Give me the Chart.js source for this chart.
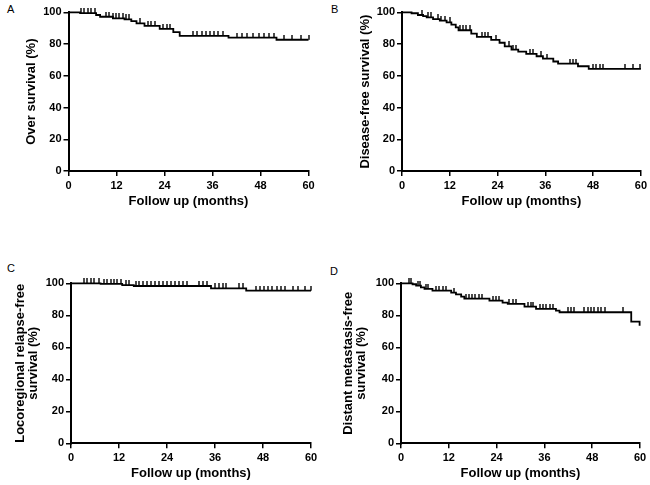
<!DOCTYPE html>
<html>
<head>
<meta charset="utf-8">
<script src="https://cdn.jsdelivr.net/npm/chart.js@4"></script>
<style>
 body { margin: 0; background: #fff; width: 650px; height: 485px; position: relative; overflow: hidden;
        font-family: "Liberation Sans", Arial, sans-serif; }
 canvas { position: absolute; }
 .letter { position: absolute; font-size: 11px; color: #000; }
</style>
</head>
<body>
<div class="letter" style="left:7px;top:3px">A</div>
<div class="letter" style="left:331px;top:3px">B</div>
<div class="letter" style="left:7px;top:262px">C</div>
<div class="letter" style="left:330px;top:265px">D</div>
<canvas id="cA" width="325" height="213" style="left:0;top:0"></canvas>
<canvas id="cB" width="320" height="213" style="left:330px;top:0"></canvas>
<canvas id="cC" width="325" height="215" style="left:0;top:270px"></canvas>
<canvas id="cD" width="320" height="215" style="left:330px;top:270px"></canvas>
<script>
const monthTicks = [0, 12, 24, 36, 48, 60];
const pctTicks = [0, 20, 40, 60, 80, 100];

// A - overall survival
const osTimes = [0, 2.9, 6.9, 7.9, 11.1, 14, 15.7, 17, 19, 22.8, 26.2, 27.8, 40, 52, 60];
const osSurv = [100, 99.5, 98.3, 97.2, 96.2, 95.5, 94.5, 93, 91.5, 89.5, 87.5, 85.2, 84, 82.7, 82.7];
const osCensor = [3.1, 3.9, 4.8, 5.6, 6.5, 9.4, 10.2, 11.1, 11.9, 12.7, 13.6, 14.4, 15.2, 17.8, 19.9, 20.7, 21.5,
   23.6, 24.5, 25.3, 31.2, 32.2, 33.3, 34.3, 35.4, 36.4, 37.4, 38.5, 42, 43.3, 44.6, 46.2, 47.5, 48.8, 50, 51.3,
   53.8, 55.9, 58, 60];

// B - disease-free survival
const dfsTimes = [0, 2.4, 4, 5.3, 6.2, 7.8, 9.5, 11.2, 12.4, 13.5, 14.2, 17.4, 18.8, 22.4, 24.5, 25.8, 27.5,
   29.2, 31.2, 33.8, 35.4, 38, 39.2, 44.2, 46.9, 60];
const dfsSurv = [100, 99.4, 98.3, 97.6, 96.8, 95.7, 94.7, 93.6, 92.2, 90.5, 88.7, 86.5, 84.5, 82.6, 80.8, 78.5,
   76.5, 75.2, 73.8, 72.3, 70.8, 69, 67.6, 66, 64.3, 64.3];
const dfsCensor = [4.9, 6.5, 7.4, 9.1, 9.9, 10.7, 12, 14.5, 15.3, 16.2, 17, 20, 20.8, 21.6, 23.7, 27, 27.9, 28.7,
   32.1, 32.9, 35, 36.3, 42.1, 43, 43.8, 48, 48.8, 49.7, 50.5, 55.9, 58, 59.7];

// C - locoregional relapse-free survival
const lrfsTimes = [0, 7.4, 12.8, 15.7, 35, 43.8, 60];
const lrfsSurv = [100, 99.6, 98.9, 98.3, 96.8, 95.4, 95.4];
const lrfsCensor = [3.2, 4, 4.9, 5.7, 7, 8.2, 9.1, 9.9, 10.7, 11.6, 12.4, 13.7, 14.5, 16.2, 17, 18, 19, 20, 21,
   22, 23, 24, 25, 26, 27, 28, 29, 32.1, 33.1, 34.1, 35.9, 36.9, 37.9, 38.8, 42.1, 43, 46.3, 47.3, 48.3, 49.3,
   50.3, 51.4, 52.4, 53.4, 55.6, 56.8, 58.5, 60];

// D - distant metastasis-free survival
const dmfsTimes = [0, 2.9, 3.8, 5, 5.9, 7.9, 12.6, 13.8, 15.1, 15.9, 22.2, 25.5, 26.8, 31, 33.9, 38.9, 39.8, 57.8, 59.9];
const dmfsSurv = [100, 99.4, 98.5, 97.5, 96.5, 95.4, 94.2, 93.1, 91.7, 90.4, 89.2, 87.9, 87.1, 85.4, 84, 82.9, 81.9, 76, 73.5];
const dmfsCensor = [1.9, 2.5, 4.2, 4.8, 6.3, 6.9, 8.8, 9.6, 10.5, 11.3, 13.4, 16.2, 17, 17.8, 18.7, 19.5, 20.3,
   23, 23.9, 24.7, 27.2, 28.1, 28.9, 31.8, 32.7, 33.2, 34.8, 35.6, 36.4, 37.3, 38.1, 41.9, 42.7, 43.5, 46, 46.9,
   47.7, 48.5, 49.4, 50.2, 51.1, 55.7];

Chart.defaults.font.family = '"Liberation Sans", Arial, sans-serif';
Chart.defaults.color = '#000';

// small upward tick used for censored cases
const censorMark = document.createElement('canvas');
censorMark.width = 2;
censorMark.height = 10;
const cm = censorMark.getContext('2d');
cm.fillStyle = '#000';
cm.fillRect(0.3, 0, 1.4, 5);

function survAt(times, surv, t) {
   let v = surv[0];
   for (let i = 0; i < times.length; i++) {
      if (times[i] <= t) v = surv[i];
   }
   return v;
}

function kmPanel(id, times, surv, censor, yTitle, box) {
   const curve = times.map((t, i) => ({ x: t, y: surv[i] }));
   const marks = censor.map(t => ({ x: t, y: survAt(times, surv, t) }));
   const axisGrid = { display: true, drawOnChartArea: false, drawTicks: true, tickLength: 5, color: '#000', lineWidth: 1.5 };
   const tickFont = { size: 11, weight: 'bold' };

   new Chart(document.getElementById(id), {
      type: 'line',
      data: {
         datasets: [{
            data: curve,
            stepped: true,
            borderColor: '#000',
            borderWidth: 1.8,
            pointRadius: 0,
            clip: false
         }, {
            data: marks,
            showLine: false,
            pointStyle: censorMark,
            pointRadius: 4,
            clip: false
         }]
      },
      options: {
         responsive: false,
         animation: false,
         events: [],
         layout: { padding: { left: 0, top: box.top, right: box.right, bottom: 0 } },
         plugins: { legend: { display: false }, tooltip: { enabled: false } },
         scales: {
            x: {
               type: 'linear',
               min: 0,
               max: 60,
               afterBuildTicks: s => { s.ticks = monthTicks.map(v => ({ value: v })); },
               afterFit: s => { s.height = box.xh; },
               grid: axisGrid,
               border: { display: true, color: '#000', width: 2 },
               ticks: { font: tickFont, padding: 3, maxRotation: 0 },
               title: {
                  display: true,
                  text: 'Follow up (months)',
                  font: { size: 13, weight: 'bold', lineHeight: 1.2 },
                  padding: { top: 0, bottom: 4 }
               }
            },
            y: {
               type: 'linear',
               min: 0,
               max: 100,
               afterBuildTicks: s => { s.ticks = pctTicks.map(v => ({ value: v })); },
               afterFit: s => { s.width = box.yw; },
               grid: axisGrid,
               border: { display: true, color: '#000', width: 2 },
               ticks: { font: tickFont, padding: 2 },
               title: {
                  display: true,
                  text: yTitle,
                  font: { size: 13, weight: 'bold', lineHeight: 1.03 },
                  padding: { top: box.tp, bottom: 0 }
               }
            }
         }
      }
   });
}

kmPanel('cA', osTimes, osSurv, osCensor, 'Over survival (%)',
   { top: 12.3, right: 16.5, xh: 42, yw: 68.5, tp: 25 });
kmPanel('cB', dfsTimes, dfsSurv, dfsCensor, 'Disease-free survival (%)',
   { top: 12.3, right: 9, xh: 42, yw: 72, tp: 28.3 });
kmPanel('cC', lrfsTimes, lrfsSurv, lrfsCensor, ['Locoregional relapse-free', 'survival (%)'],
   { top: 13.3, right: 14, xh: 41.7, yw: 71, tp: 13.3 });
kmPanel('cD', dmfsTimes, dmfsSurv, dmfsCensor, ['Distant metastasis-free', 'survival (%)'],
   { top: 13.3, right: 10, xh: 41.7, yw: 71, tp: 11.3 });
</script>
</body>
</html>
